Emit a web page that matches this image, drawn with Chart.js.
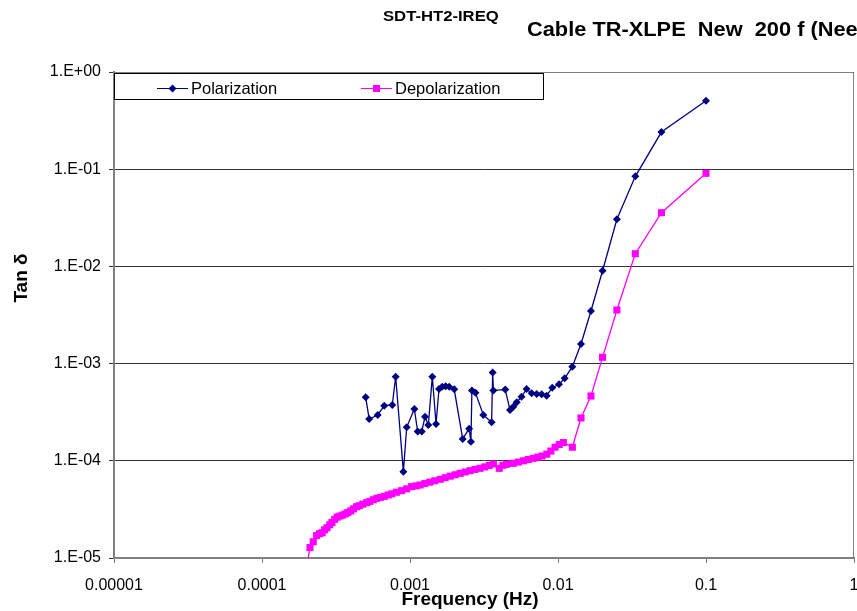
<!DOCTYPE html>
<html>
<head>
<meta charset="utf-8">
<script src="https://cdn.jsdelivr.net/npm/chart.js@4/dist/chart.umd.min.js"></script>
<style>
  html, body { margin: 0; padding: 0; background: #fff; }
  #wrap { width: 857px; height: 611px; }
</style>
</head>
<body>
<div id="wrap"><canvas id="tanChart" width="857" height="611"></canvas></div>
<script>
// Polarization: frequency (Hz) and tan delta
const polFreq = [5.02e-4, 5.3e-4, 6.05e-4, 6.7e-4, 7.59e-4, 8.0e-4, 9.02e-4, 9.5e-4, 1.07e-3, 1.127e-3,
  1.2e-3, 1.263e-3, 1.33e-3, 1.415e-3, 1.5e-3, 1.57e-3, 1.65e-3, 1.74e-3, 1.84e-3, 1.99e-3,
  2.27e-3, 2.51e-3, 2.58e-3, 2.62e-3, 2.77e-3, 3.13e-3, 3.56e-3, 3.62e-3, 3.66e-3, 4.4e-3,
  4.74e-3, 4.99e-3, 5.26e-3, 5.67e-3, 6.13e-3, 6.64e-3, 7.18e-3, 7.75e-3, 8.38e-3, 9.14e-3,
  1.016e-2, 1.11e-2, 1.25e-2, 1.43e-2, 1.67e-2, 2.0e-2, 2.5e-2, 3.33e-2, 5.0e-2, 0.1];
const polTan = [4.5e-4, 2.69e-4, 2.96e-4, 3.69e-4, 3.75e-4, 7.33e-4, 7.73e-5, 2.21e-4, 3.41e-4, 2.0e-4,
  2.0e-4, 2.84e-4, 2.34e-4, 7.33e-4, 2.39e-4, 5.48e-4, 5.78e-4, 5.85e-4, 5.78e-4, 5.44e-4,
  1.68e-4, 2.14e-4, 1.57e-4, 5.3e-4, 5.0e-4, 2.96e-4, 2.49e-4, 8.1e-4, 5.3e-4, 5.4e-4,
  3.33e-4, 3.6e-4, 4.0e-4, 4.56e-4, 5.48e-4, 4.94e-4, 4.86e-4, 4.83e-4, 4.67e-4, 5.65e-4,
  6.12e-4, 7.06e-4, 9.3e-4, 1.59e-3, 3.48e-3, 9.03e-3, 3.05e-2, 8.45e-2, 0.241, 0.507];

// Depolarization: frequency (Hz) and tan delta
const depFreq = [2.0e-4, 2.11e-4, 2.22e-4, 2.34e-4, 2.45e-4, 2.55e-4, 2.65e-4, 2.75e-4, 2.87e-4, 2.97e-4,
  3.1e-4, 3.22e-4, 3.36e-4, 3.5e-4, 3.65e-4, 3.8e-4, 3.98e-4, 4.15e-4, 4.36e-4, 4.55e-4,
  4.8e-4, 5.1e-4, 5.35e-4, 5.65e-4, 5.96e-4, 6.3e-4, 6.7e-4, 7.13e-4, 7.55e-4, 8.1e-4,
  8.78e-4, 9.5e-4, 1.026e-3, 1.1e-3, 1.17e-3, 1.26e-3, 1.36e-3, 1.47e-3, 1.6e-3, 1.73e-3,
  1.87e-3, 2.02e-3, 2.18e-3, 2.36e-3, 2.55e-3, 2.75e-3, 2.97e-3, 3.2e-3, 3.43e-3, 3.66e-3,
  4.01e-3, 4.25e-3, 4.5e-3, 4.99e-3, 5.4e-3, 5.85e-3, 6.3e-3, 6.81e-3, 7.3e-3, 7.8e-3,
  8.39e-3, 8.95e-3, 9.55e-3, 1.02e-2, 1.087e-2, 1.25e-2, 1.43e-2, 1.67e-2, 2.0e-2, 2.5e-2,
  3.33e-2, 5.0e-2, 0.1];
const depTan = [8.0e-6, 1.28e-5, 1.47e-5, 1.7e-5, 1.78e-5, 1.82e-5, 1.95e-5, 2.05e-5, 2.2e-5, 2.32e-5,
  2.5e-5, 2.63e-5, 2.7e-5, 2.76e-5, 2.84e-5, 2.93e-5, 3.05e-5, 3.2e-5, 3.37e-5, 3.45e-5,
  3.58e-5, 3.71e-5, 3.82e-5, 3.97e-5, 4.11e-5, 4.2e-5, 4.31e-5, 4.45e-5, 4.58e-5, 4.75e-5,
  4.93e-5, 5.15e-5, 5.42e-5, 5.52e-5, 5.64e-5, 5.83e-5, 6.03e-5, 6.23e-5, 6.45e-5, 6.7e-5,
  6.95e-5, 7.18e-5, 7.43e-5, 7.68e-5, 7.92e-5, 8.15e-5, 8.37e-5, 8.65e-5, 8.95e-5, 9.27e-5,
  8.37e-5, 9.0e-5, 9.2e-5, 9.42e-5, 9.7e-5, 1.0e-4, 1.03e-4, 1.06e-4, 1.09e-4, 1.12e-4,
  1.17e-4, 1.26e-4, 1.38e-4, 1.47e-4, 1.54e-4, 1.38e-4, 2.76e-4, 4.64e-4, 1.16e-3, 3.56e-3,
  1.35e-2, 3.57e-2, 9.07e-2];

// axis ticks
const xTickValues = [0.00001, 0.0001, 0.001, 0.01, 0.1, 1];
const xTickLabels = ['0.00001', '0.0001', '0.001', '0.01', '0.1', '1'];
const yTickValues = [1e-5, 1e-4, 1e-3, 1e-2, 1e-1, 1];
const yTickLabels = ['1.E-05', '1.E-04', '1.E-03', '1.E-02', '1.E-01', '1.E+00'];

const seriesNames = ['Polarization', 'Depolarization'];
const NAVY = '#000080';
const MAGENTA = '#FF00FF';
const FONT = '"Liberation Sans", Arial, sans-serif';

function toPoints(xs, ys) {
  return xs.map((x, i) => ({ x: x, y: ys[i] }));
}

function labelFor(values, labels, v) {
  const i = values.findIndex(t => Math.abs(Math.log10(t) - Math.log10(v)) < 1e-6);
  return i >= 0 ? labels[i] : '';
}

function drawMarker(ctx, style, x, y, r) {
  ctx.beginPath();
  if (style === 'rectRot') {
    ctx.moveTo(x, y - r);
    ctx.lineTo(x + r, y);
    ctx.lineTo(x, y + r);
    ctx.lineTo(x - r, y);
    ctx.closePath();
  } else {
    ctx.rect(x - r, y - r, 2 * r, 2 * r);
  }
  ctx.fill();
}

// stretched text, the chart fonts run a little wide
function wideText(ctx, text, x, y, sx) {
  ctx.save();
  ctx.translate(x, y);
  ctx.scale(sx, 1);
  ctx.fillText(text, 0, 0);
  ctx.restore();
}

// titles, legend box and plot frame
const decorations = {
  id: 'decorations',
  afterDraw(chart) {
    const ctx = chart.ctx;
    const a = chart.chartArea;
    ctx.save();

    // frame on top and right
    ctx.strokeStyle = '#808080';
    ctx.lineWidth = 1;
    ctx.beginPath();
    ctx.moveTo(a.left, a.top + 0.5);
    ctx.lineTo(a.right - 0.5, a.top + 0.5);
    ctx.lineTo(a.right - 0.5, a.bottom);
    ctx.stroke();

    ctx.fillStyle = '#000';
    ctx.textBaseline = 'alphabetic';
    ctx.textAlign = 'left';

    // small header
    ctx.font = 'bold 14px ' + FONT;
    wideText(ctx, 'SDT-HT2-IREQ', 383, 21, 1.19);

    // main title (runs off the right edge)
    ctx.font = 'bold 20px ' + FONT;
    wideText(ctx, 'Cable TR-XLPE  New  200 f (Needle)', 527, 36, 1.09);

    // axis titles
    ctx.font = 'bold 19px ' + FONT;
    ctx.textAlign = 'center';
    ctx.fillText('Frequency (Hz)', 470, 605);
    ctx.save();
    ctx.translate(27, 278);
    ctx.rotate(-Math.PI / 2);
    ctx.fillText('Tan δ', 0, 0);
    ctx.restore();

    // legend
    const lx = 114.5, ly = 73.5, lw = 429, lh = 26;
    ctx.fillStyle = '#fff';
    ctx.fillRect(lx, ly, lw, lh);
    ctx.strokeStyle = '#000';
    ctx.lineWidth = 1;
    ctx.strokeRect(lx, ly, lw, lh);

    const items = [
      { x: 157, color: NAVY, style: 'rectRot', r: 4 },
      { x: 361, color: MAGENTA, style: 'rect', r: 3.5 }
    ];
    const my = 88;
    ctx.font = '16.5px ' + FONT;
    ctx.textAlign = 'left';
    ctx.textBaseline = 'middle';
    items.forEach((it, i) => {
      ctx.strokeStyle = it.color;
      ctx.lineWidth = 1;
      ctx.beginPath();
      ctx.moveTo(it.x, my + 0.5);
      ctx.lineTo(it.x + 31, my + 0.5);
      ctx.stroke();
      ctx.fillStyle = it.color;
      drawMarker(ctx, it.style, it.x + 15.5, my + 0.5, it.r);
      ctx.fillStyle = '#000';
      ctx.fillText(seriesNames[i], it.x + 34, my + 1);
    });

    ctx.restore();
  }
};

new Chart(document.getElementById('tanChart').getContext('2d'), {
  type: 'line',
  data: {
    datasets: [
      {
        label: seriesNames[0],
        data: toPoints(polFreq, polTan),
        borderColor: NAVY,
        backgroundColor: NAVY,
        borderWidth: 1.3,
        pointStyle: 'rectRot',
        pointRadius: 4,
        pointBorderWidth: 0,
        tension: 0
      },
      {
        label: seriesNames[1],
        data: toPoints(depFreq, depTan),
        borderColor: MAGENTA,
        backgroundColor: MAGENTA,
        borderWidth: 1.3,
        pointStyle: 'rect',
        pointRadius: 5,
        pointBorderWidth: 0,
        tension: 0
      }
    ]
  },
  options: {
    responsive: false,
    devicePixelRatio: 1,
    animation: false,
    layout: { autoPadding: false, padding: { top: 72, right: 3, left: 0, bottom: 0 } },
    plugins: {
      legend: { display: false },
      tooltip: { enabled: false }
    },
    scales: {
      x: {
        type: 'logarithmic',
        min: 0.00001,
        max: 1,
        afterBuildTicks: s => { s.ticks = xTickValues.map(v => ({ value: v })); },
        afterFit: s => { s.height = 53; s.paddingLeft = 0; s.paddingRight = 0; },
        ticks: {
          autoSkip: false,
          maxRotation: 0,
          color: '#000',
          padding: 13,
          font: { family: FONT, size: 16 },
          callback: v => labelFor(xTickValues, xTickLabels, v)
        },
        grid: { drawOnChartArea: false, tickLength: 5, color: '#808080' },
        border: { color: '#808080', width: 2 }
      },
      y: {
        type: 'logarithmic',
        min: 1e-5,
        max: 1,
        afterBuildTicks: s => { s.ticks = yTickValues.map(v => ({ value: v })); },
        afterFit: s => { s.width = 114; s.paddingTop = 0; s.paddingBottom = 0; },
        ticks: {
          color: '#000',
          padding: 8,
          font: { family: FONT, size: 16 },
          callback: v => labelFor(yTickValues, yTickLabels, v)
        },
        grid: { color: '#333', tickLength: 5 },
        border: { color: '#808080', width: 2 }
      }
    }
  },
  plugins: [decorations]
});
</script>
</body>
</html>
